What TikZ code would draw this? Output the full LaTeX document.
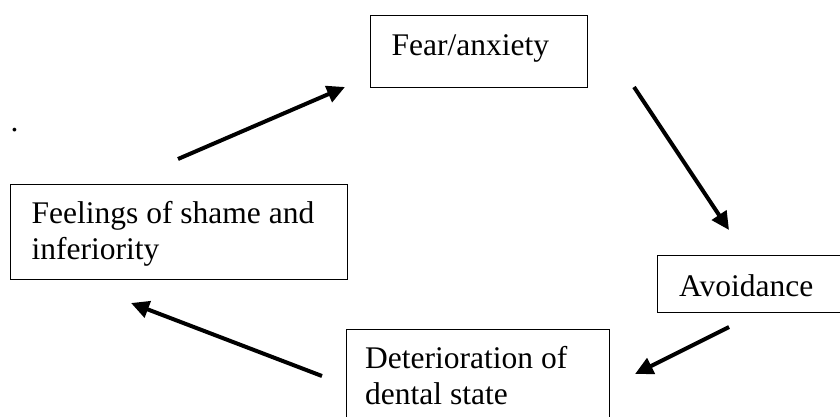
\documentclass[tikz,border=0pt]{standalone}
\usepackage{fontspec}
\setmainfont{Liberation Serif}
\usetikzlibrary{arrows.meta}
\begin{document}
\begin{tikzpicture}[x=1pt,y=-1pt,
  box/.style={draw=black,line width=1.4pt,rectangle,inner sep=0pt,anchor=north west},
  lbl/.style={anchor=base west,inner sep=0pt,align=left,font=\fontsize{31.5}{36}\selectfont},
  flow/.style={line width=4pt,-{Triangle[length=18pt,width=17pt]}}]
\useasboundingbox (0,0) rectangle (840,416);
% boxes
\node[box,minimum width=217pt,minimum height=72pt] (fear) at (369.5,15) {};
\node[box,minimum width=337pt,minimum height=95pt] (shame) at (9.5,184) {};
\node[box,minimum width=200pt,minimum height=57pt] (avoid) at (657,255) {};
\node[box,minimum width=263pt,minimum height=110pt] (deter) at (346,328.5) {};
% texts
\node[lbl] (tfear) at (391.5,55) {Fear/anxiety};
\node[lbl] (tshame) at (31.5,223) {Feelings of shame and};
\node[lbl] (tshame2) at (31.5,259) {inferiority};
\node[lbl] (tavoid) at (679,296) {Avoidance};
\node[lbl] (tdeter) at (365,368.5) {Deterioration of};
\node[lbl] (tdeter2) at (365,404) {dental state};
\node[lbl] (dot) at (10.5,131) {.};
% arrow ends
\coordinate (a1s) at (178,159);
\coordinate (a1e) at (345,87);
\coordinate (a2s) at (634,87);
\coordinate (a2e) at (729,230);
\coordinate (a3s) at (729,327);
\coordinate (a3e) at (635,374);
\coordinate (a4s) at (322,376);
\coordinate (a4e) at (131,303);
\draw[flow] (a1s) -- (a1e);
\draw[flow] (a2s) -- (a2e);
\draw[flow] (a3s) -- (a3e);
\draw[flow] (a4s) -- (a4e);
\end{tikzpicture}
\end{document}
